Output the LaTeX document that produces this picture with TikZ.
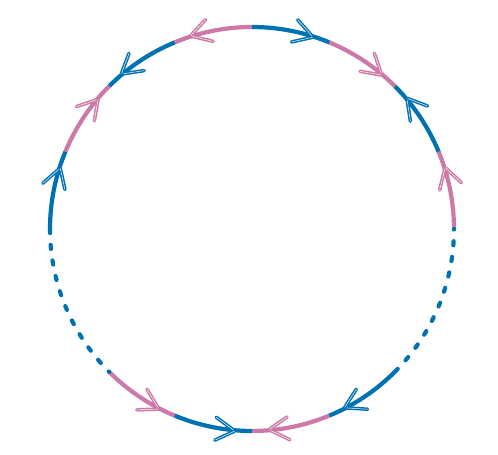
\documentclass[tikz,border=0pt]{standalone}
\usetikzlibrary{decorations.markings}
\definecolor{cblue}{HTML}{0072B2}
\definecolor{cpink}{HTML}{CC79A7}
\tikzstyle{seg} = [line width=3.6pt, line cap=butt]
\tikzstyle{dots} = [line width=3.6pt, line cap=round, dash pattern=on 3.5pt off 10pt, draw=cblue]
\tikzstyle{barb} = [line width=1.3pt, double=white, double distance=0.4pt, line cap=round]
\tikzstyle{sketcharrow} = [postaction={decorate}, decoration={markings,
  mark=at position 0.77 with {
    \draw[barb] (0,0) -- (-0.56,0.34);
    \draw[barb] (0.02,-0.03) -- (-0.54,-0.35);}}]

\begin{document}
\begin{tikzpicture}
    \useasboundingbox (0,0) rectangle (14.94,13.65);
    \coordinate (ctr) at (7.56,6.78);
    \def\rad{6.06}
    % coloured arcs, each from start angle to end angle (arrow direction)
    \foreach \s/\e/\c in {0/22.5/cpink, 22.5/45/cblue, 67.5/45/cpink, 90/67.5/cblue,
                          90/112.5/cpink, 112.5/135/cblue, 157.5/135/cpink, 180/157.5/cblue,
                          225/247.5/cpink, 247.5/270/cblue, 292.5/270/cpink, 315/292.5/cblue}
      \draw[seg, sketcharrow, color=\c] (ctr) ++(\s:\rad) arc[start angle=\s, end angle=\e, radius=\rad];
    % dotted parts
    \draw[dots] (ctr) ++(180:\rad) arc[start angle=180, end angle=225, radius=\rad];
    \draw[dots] (ctr) ++(315:\rad) arc[start angle=315, end angle=360, radius=\rad];
\end{tikzpicture}
\end{document}
